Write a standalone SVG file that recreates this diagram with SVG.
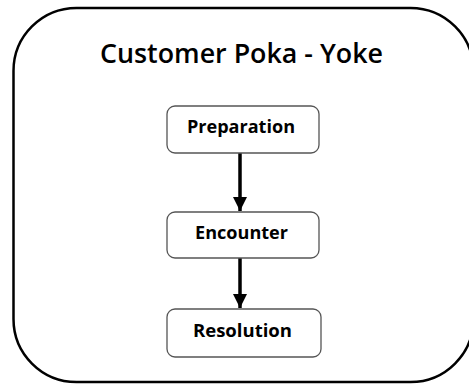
<svg xmlns="http://www.w3.org/2000/svg" width="469" height="385" viewBox="0 0 469 385">
<defs>
<style>
.node rect{fill:#fff;stroke:#555;stroke-width:1.3}
.node text{font-family:"Open Sans","Liberation Sans",sans-serif;font-weight:bold;font-size:18px;fill:#000;text-anchor:middle}
.conn line{stroke:#000;stroke-width:3.5}
.title{font-family:"Open Sans","Liberation Sans",sans-serif;font-weight:600;font-size:27px;fill:#000;text-anchor:middle}
</style>
<marker id="ah" viewBox="0 0 14 14" refX="14" refY="7" markerWidth="14" markerHeight="14" markerUnits="userSpaceOnUse" orient="auto">
<path d="M0,0 L14,7 L0,14 Z" fill="#000"/>
</marker>
</defs>
<rect width="469" height="385" fill="#fff"/>
<g id="container">
<rect x="13.5" y="8" width="460" height="374" rx="63" ry="63" fill="#fff" stroke="#000" stroke-width="2.5"/>
<text class="title" x="241.5" y="63" textLength="283" lengthAdjust="spacingAndGlyphs">Customer Poka - Yoke</text>
</g>
<g class="conn" id="connectors">
<line x1="240" y1="153" x2="240" y2="211" marker-end="url(#ah)"/>
<line x1="240" y1="258" x2="240" y2="308" marker-end="url(#ah)"/>
</g>
<g class="node" id="preparation">
<rect x="167" y="106" width="152" height="47" rx="8"/>
<text x="241" y="133" textLength="108" lengthAdjust="spacingAndGlyphs">Preparation</text>
</g>
<g class="node" id="encounter">
<rect x="167" y="212" width="152" height="46" rx="8"/>
<text x="241.5" y="238.5" textLength="93" lengthAdjust="spacingAndGlyphs">Encounter</text>
</g>
<g class="node" id="resolution">
<rect x="167" y="309" width="154" height="48" rx="8"/>
<text x="242.5" y="337" textLength="99" lengthAdjust="spacingAndGlyphs">Resolution</text>
</g>
</svg>
